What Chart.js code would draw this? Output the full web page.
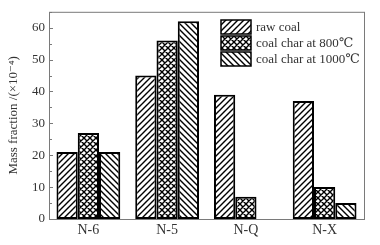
<!DOCTYPE html>
<html>
<head>
<meta charset="utf-8">
<script src="https://cdn.jsdelivr.net/npm/chart.js@4"></script>
<style>
  html, body { margin: 0; padding: 0; background: #fff; }
  #wrap { width: 380px; height: 245px; }
</style>
</head>
<body>
<div id="wrap"><canvas id="chart" width="380" height="245"></canvas></div>
<script>
const categories = ['N-6', 'N-5', 'N-Q', 'N-X'];
const seriesLabels = ['raw coal', 'coal char at 800\u2103', 'coal char at 1000\u2103'];
const rawCoal = [21, 45, 39, 37];
const char800 = [27, 56, 7, 10];
const char1000 = [21, 62, null, 5];
const yMax = 65;
const yStep = 5;

const SERIF = '"Liberation Serif", "DejaVu Serif", serif';

// hatch fills, like the printed figure
function makePattern(kind) {
    const s = 6;
    const c = document.createElement('canvas');
    c.width = s; c.height = s;
    const g = c.getContext('2d');
    g.fillStyle = '#fff';
    g.fillRect(0, 0, s, s);
    g.strokeStyle = '#000';
    g.lineWidth = 1.4;
    g.beginPath();
    if (kind === 'fwd' || kind === 'cross') {
        g.moveTo(-1, s + 1); g.lineTo(s + 1, -1);
        g.moveTo(-1, 1); g.lineTo(1, -1);
        g.moveTo(s - 1, s + 1); g.lineTo(s + 1, s - 1);
    }
    if (kind === 'back' || kind === 'cross') {
        g.moveTo(-1, -1); g.lineTo(s + 1, s + 1);
        g.moveTo(s - 1, -1); g.lineTo(s + 1, 1);
        g.moveTo(-1, s - 1); g.lineTo(1, s + 1);
    }
    g.stroke();
    return g.createPattern(c, 'repeat');
}

const fills = [makePattern('fwd'), makePattern('cross'), makePattern('back')];

const framePlugin = {
    id: 'frame',
    beforeDatasetsDraw(chart) {
        const { ctx, chartArea: a, scales } = chart;
        ctx.save();
        ctx.strokeStyle = '#7a7a7a';
        ctx.lineWidth = 1;
        ctx.strokeRect(a.left + 0.5, a.top + 0.5, a.right - a.left, a.bottom - a.top);
        // inward ticks on the left axis
        ctx.beginPath();
        for (let v = 0; v <= yMax; v += yStep) {
            const y = Math.round(scales.y.getPixelForValue(v)) + 0.5;
            const len = v % 10 === 0 ? 4 : 3;
            ctx.moveTo(a.left, y);
            ctx.lineTo(a.left + len, y);
        }
        ctx.stroke();
        ctx.restore();
    }
};

const legendPlugin = {
    id: 'boxLegend',
    afterDraw(chart) {
        const ctx = chart.ctx;
        ctx.save();
        chart.data.datasets.forEach((ds, i) => {
            const x = 221, y = 20 + i * 16, w = 30, h = 14;
            ctx.fillStyle = ds.backgroundColor;
            ctx.fillRect(x, y, w, h);
            ctx.strokeStyle = '#000';
            ctx.lineWidth = 1.5;
            ctx.strokeRect(x, y, w, h);
            ctx.fillStyle = '#333';
            ctx.font = '13px ' + SERIF;
            ctx.textBaseline = 'middle';
            ctx.fillText(ds.label, x + w + 5, y + h / 2 + 1);
        });
        ctx.restore();
    }
};

const datasets = [rawCoal, char800, char1000].map((vals, i) => ({
    label: seriesLabels[i],
    data: vals,
    backgroundColor: fills[i],
    borderColor: '#000',
    borderWidth: 2,
    borderSkipped: false,
    categoryPercentage: 0.81,
    barPercentage: 1.0
}));

new Chart(document.getElementById('chart').getContext('2d'), {
    type: 'bar',
    data: { labels: categories, datasets: datasets },
    plugins: [framePlugin, legendPlugin],
    options: {
        responsive: false,
        animation: false,
        layout: { padding: { top: 10, right: 16, left: 0, bottom: 0 } },
        plugins: { legend: { display: false }, tooltip: { enabled: false } },
        scales: {
            x: {
                grid: { display: false, drawTicks: false },
                border: { display: false },
                ticks: { color: '#333', font: { family: SERIF, size: 14 }, padding: 3 },
                afterFit(scale) { scale.height = 26; }
            },
            y: {
                min: 0,
                max: yMax,
                grid: { display: false, drawTicks: false },
                border: { display: false },
                ticks: {
                    stepSize: yStep,
                    color: '#333',
                    font: { family: SERIF, size: 13 },
                    padding: 4,
                    autoSkip: false,
                    callback: v => (v % 10 === 0 ? v : '')
                },
                title: {
                    display: true,
                    text: 'Mass fraction /(\u00d710\u207b\u2074)',
                    color: '#333',
                    font: { family: SERIF, size: 13 },
                    padding: { top: 6, bottom: 0 }
                },
                afterFit(scale) { scale.width = 49; }
            }
        }
    }
});
</script>
</body>
</html>
